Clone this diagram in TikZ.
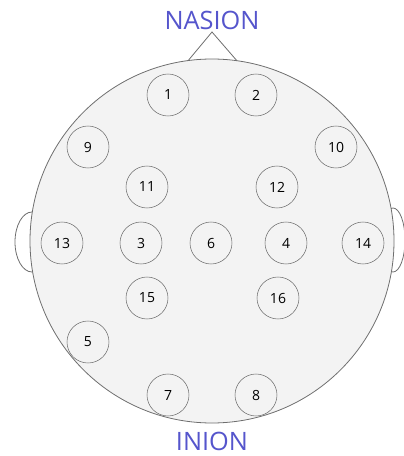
\documentclass[tikz,border=0pt]{standalone}
\usepackage{fontspec}
\setmainfont{Open Sans}
\usepackage{tikz}
\usetikzlibrary{positioning}
\definecolor{headfill}{HTML}{F3F3F3}
\definecolor{outline}{HTML}{6E6E6E}
\definecolor{label}{HTML}{5555CC}

\begin{document}
\begin{tikzpicture}[x=0.75pt, y=-0.75pt,
  elec/.style={draw=outline, circle, fill=headfill, minimum size=31.5pt, inner sep=0pt, font=\fontsize{10.5}{11}\selectfont},
  ear/.style={draw=outline, fill=white, line width=0.6pt},
  landmark/.style={text=label, font=\fontsize{19}{19}\selectfont}
]
\useasboundingbox (0,0) rectangle (403,456);

% ears and nose
\draw[ear] (32,242) ellipse [x radius=17, y radius=30];
\draw[ear] (393,240) ellipse [x radius=12, y radius=32];
\coordinate (noseL) at (187,62);
\coordinate (noseT) at (212,32);
\coordinate (noseR) at (238,62);
\draw[outline, line width=0.6pt] (noseL) -- (noseT) -- (noseR);

% head
\node[draw=outline, fill=headfill, circle, minimum size=273pt, inner sep=0pt, line width=0.6pt] (head) at (212,241) {};

% electrodes
\node[elec] (e1) at (168,95) {1};
\node[elec] (e2) at (256,95) {2};
\node[elec] (e9) at (88,147) {9};
\node[elec] (e10) at (336,147) {10};
\node[elec] (e11) at (147,187) {11};
\node[elec] (e12) at (277,187) {12};
\node[elec] (e13) at (62,243) {13};
\node[elec] (e3) at (141,243) {3};
\node[elec] (e6) at (211,243) {6};
\node[elec] (e4) at (286,243) {4};
\node[elec] (e14) at (363,243) {14};
\node[elec] (e15) at (147,298) {15};
\node[elec] (e16) at (278,298) {16};
\node[elec] (e5) at (88,342) {5};
\node[elec] (e7) at (168,395) {7};
\node[elec] (e8) at (256,395) {8};

% labels
\node[landmark] (nasion) at (212,20) {NASION};
\node[landmark] (inion) at (212,441) {INION};
\end{tikzpicture}
\end{document}
